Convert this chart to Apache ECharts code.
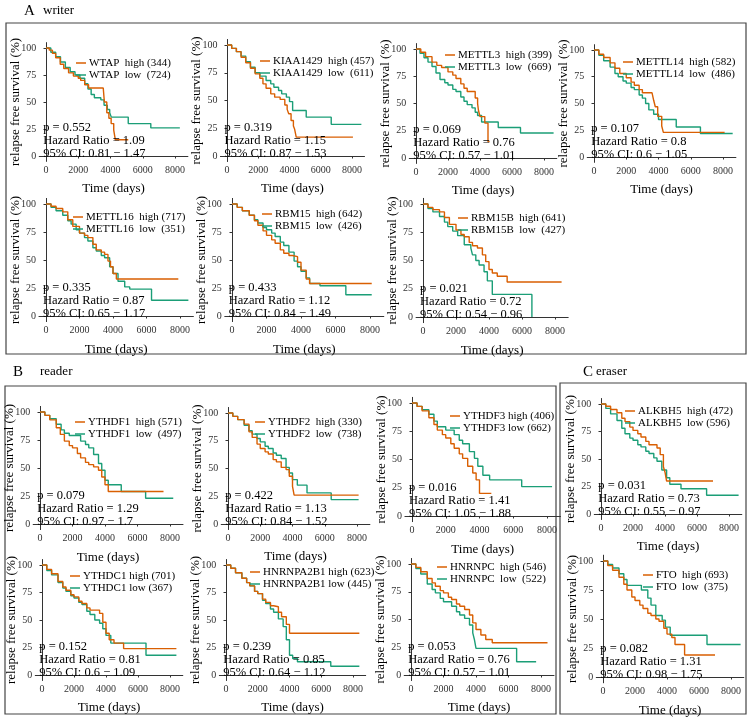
<!DOCTYPE html>
<html><head><meta charset="utf-8">
<script src="https://cdn.jsdelivr.net/npm/echarts@6/dist/echarts.min.js"></script>
<style>html,body{margin:0;padding:0;background:#fff}#c{width:749px;height:721px}</style>
</head><body><div id="c"></div>
<script>
// ---------------- DATA ----------------
const genes = ['WTAP','KIAA1429','METTL3','METTL14','METTL16','RBM15','RBM15B',
  'YTHDF1','YTHDF2','YTHDF3','ALKBH5','YTHDC1','HNRNPA2B1','HNRNPC','FTO'];
const legendHigh = ['WTAP  high (344)','KIAA1429  high (457)','METTL3  high (399)','METTL14  high (582)',
  'METTL16  high (717)','RBM15  high (642)','RBM15B  high (641)','YTHDF1  high (571)','YTHDF2  high (330)',
  'YTHDF3 high (406)','ALKBH5  high (472)','YTHDC1 high (701)','HNRNPA2B1 high (623)','HNRNPC  high (546)','FTO  high (693)'];
const legendLow = ['WTAP  low  (724)','KIAA1429  low  (611)','METTL3  low  (669)','METTL14  low  (486)',
  'METTL16  low  (351)','RBM15  low  (426)','RBM15B  low  (427)','YTHDF1  low  (497)','YTHDF2  low  (738)',
  'YTHDF3 low (662)','ALKBH5  low (596)','YTHDC1 low (367)','HNRNPA2B1 low (445)','HNRNPC  low  (522)','FTO  low  (375)'];
const pValues = ['0.552','0.319','0.069','0.107','0.335','0.433','0.021','0.079','0.422','0.016','0.031','0.152','0.239','0.053','0.082'];
const hazardRatios = ['1.09','1.15','0.76','0.8','0.87','1.12','0.72','1.29','1.13','1.41','0.73','0.81','0.85','0.76','1.31'];
const ciLow = ['0.81','0.87','0.57','0.6','0.65','0.84','0.54','0.97','0.84','1.05','0.55','0.6','0.64','0.57','0.98'];
const ciHigh = ['1.47','1.53','1.01','1.05','1.17','1.49','0.96','1.7','1.52','1.88','0.97','1.09','1.12','1.01','1.75'];
const xTicks = [0,2000,4000,6000,8000];
const yTicks = [0,25,50,75,100];

// KM curves: [time (days), survival %]
const wtapHigh = [[0,100],[200,98],[400,95],[600,91],[880,85],[1100,81],[1400,77],[1700,74],[2000,72],[2150,70],[2400,66],[2640,63],[3550,62],[3620,50],[3770,40],[3900,35],[4040,30],[4200,24],[4300,15],[5100,15]];
const wtapLow = [[0,100],[300,96],[600,92],[900,87],[1200,82],[1500,78],[1800,75],[2100,72],[2400,67],[2600,62],[2800,57],[3000,54],[3400,52],[3600,47],[3800,43],[3950,40],[4050,36],[5100,30],[6500,26],[8300,26]];
const kiaaHigh = [[0,100],[300,97],[600,94],[900,89],[1200,84],[1500,79],[1800,74],[2100,70],[2300,65],[2500,61],[2800,56],[3050,53],[3400,51],[3700,46],[3850,42],[3950,38],[4100,32],[4250,27],[4330,24],[4430,17],[8060,17]];
const kiaaLow = [[0,100],[300,97],[600,94],[900,90],[1200,85],[1500,80],[1800,75],[2100,72],[2500,68],[2800,65],[3000,62],[3300,59],[3500,56],[3800,53],[4000,49],[4200,41],[5070,35],[6670,28.5],[8600,28.5]];
const mettl3High = [[0,100],[300,97],[600,93],[1000,88],[1300,85],[1600,83],[2000,79],[2300,76],[2500,73],[2800,68],[3000,64],[3200,61],[3700,55],[3850,50],[3900,44],[4000,38],[4300,32],[4500,15],[4600,15]];
const mettl3Low = [[0,100],[250,96],[500,92],[750,88],[1000,84],[1250,78],[1500,72],[1800,69],[2000,67],[2300,63],[2500,61],[2800,56],[3000,52],[3200,49],[3500,46],[3700,42],[3850,39],[4100,33],[5140,28],[6530,23],[8600,23]];
const mettl14High = [[0,100],[300,96],[600,93],[1000,88],[1300,83],[1600,78],[2000,74],[2300,70],[2500,67],[2800,63],[3000,60],[3600,59],[3700,53],[3800,47],[3950,38],[4200,29],[4300,23],[8100,23]];
const mettl14Low = [[0,100],[300,95],[600,90],[1000,84],[1300,78],[1500,75],[1800,71],[2000,69],[2300,65],[2500,63],[2800,58],[3000,55],[3200,50],[3400,44],[3700,40],[4000,35],[5100,28],[6600,22],[8600,22]];
const mettl16High = [[0,100],[300,98],[600,96],[1000,93],[1300,86],[1600,80],[2000,74],[2300,72],[2500,70],[2800,64],[3000,59],[3300,57],[3500,55],[3700,49],[3850,44],[4000,38],[4200,33],[7900,33]];
const mettl16Low = [[0,100],[300,97],[600,94],[1000,90],[1300,85],[1500,82],[1800,77],[2000,74],[2300,70],[2500,67],[2800,61],[3000,58],[3300,54],[3500,52],[3800,44],[4000,38],[4300,31],[4700,26],[5000,24],[6300,14],[8500,14]];
const rbm15High = [[0,100],[300,97],[600,94],[1000,90],[1300,85],[1500,81],[1800,76],[2000,72],[2300,68],[2500,65],[2800,59],[3000,56],[3300,54],[3500,53],[3800,48],[4000,41],[4300,33],[4500,29],[8100,29]];
const rbm15Low = [[0,100],[300,97],[600,94],[1000,90],[1300,86],[1500,83],[1800,79],[2000,77],[2300,74],[2500,71],[2800,66],[3000,63],[3300,57],[3600,49],[3800,44],[4000,40],[4300,34],[4500,29],[5100,27],[6600,19],[8100,19]];
const rbm15bHigh = [[0,100],[300,97],[600,95],[1000,93],[1300,88],[1600,82],[2000,77],[2300,73],[2500,71],[2800,66],[3000,63],[3300,61],[3600,55],[3800,49],[4000,42],[4200,39],[4500,36],[5100,31],[8400,31]];
const rbm15bLow = [[0,100],[300,96],[600,93],[1000,89],[1300,84],[1500,80],[1800,76],[2100,72],[2500,64],[2900,61],[3000,55],[3200,50],[3400,46],[3700,40],[3900,32],[4200,20],[6600,0]];
const ythdf1High = [[0,100],[300,97],[600,93],[1000,86],[1250,80],[1500,74],[1800,70],[2000,68],[2300,63],[2500,59],[2800,55],[3000,53],[3300,51],[3600,48],[3800,42],[4000,35],[4200,29],[7600,29]];
const ythdf1Low = [[0,100],[300,97],[600,94],[1000,89],[1300,84],[1500,81],[1800,79],[2500,74],[2800,71],[3000,68],[3300,62],[3600,54],[3800,48],[4000,39],[4200,35],[5000,29],[6500,23],[8200,23]];
const ythdf2High = [[0,100],[300,97],[600,94],[1000,90],[1300,83],[1500,78],[1800,72],[2000,68],[2300,65],[2500,63],[2800,58],[3000,56],[3300,51],[3600,49],[3800,43],[4000,34],[4100,26],[8100,26]];
const ythdf2Low = [[0,100],[300,97],[600,94],[1000,89],[1300,84],[1500,81],[1800,77],[2000,74],[2300,70],[2500,68],[2800,64],[3000,62],[3300,59],[3600,51],[3800,46],[4000,40],[4300,35],[4900,28],[6400,22],[8100,22]];
const ythdf3High = [[0,100],[300,97],[600,93],[1000,87],[1300,81],[1500,76],[1800,72],[2000,69],[2300,64],[2500,60],[2800,55],[3000,51],[3300,44],[3600,38],[3800,32],[4000,20],[4700,20]];
const ythdf3Low = [[0,100],[300,97],[600,94],[1000,90],[1300,84],[1500,79],[2000,76],[2500,72],[2800,67],[3000,64],[3400,57],[3700,51],[3900,44],[4200,36],[4600,32],[6500,26],[8300,26]];
const alkbh5High = [[0,100],[300,98],[600,95],[1000,92],[1300,87],[1500,84],[1800,79],[2000,76],[2300,73],[2500,70],[2800,66],[3000,63],[3500,60],[3700,54],[3900,43],[4000,38],[4100,30],[7000,30]];
const alkbh5Low = [[0,100],[300,96],[600,91],[1000,85],[1300,78],[1500,73],[1800,69],[2000,67],[2300,63],[2500,61],[2800,57],[3000,55],[3300,51],[3500,48],[3800,40],[4100,33],[4300,27],[5000,23],[6600,17],[8600,17]];
const ythdc1High = [[0,100],[300,96],[600,92],[1000,85],[1300,80],[1500,77],[1800,73],[2000,71],[2300,67],[2500,65],[2800,61],[3000,59],[3600,56],[3800,48],[4000,38],[4200,32],[4500,29],[5100,24],[8400,24]];
const ythdc1Low = [[0,100],[300,95],[600,91],[1000,84],[1300,79],[1500,76],[1800,72],[2000,70],[2300,66],[2500,64],[2800,58],[3000,55],[3300,50],[3600,47],[3800,42],[4000,36],[4300,29],[6500,18],[8400,18]];
const hnrnpa2b1High = [[0,100],[300,97],[600,93],[1000,88],[1300,84],[1500,81],[1800,76],[2000,74],[2300,69],[2500,66],[2800,63],[3000,62],[3300,57],[3500,53],[3800,46],[4000,38],[8400,38]];
const hnrnpa2b1Low = [[0,100],[300,97],[600,93],[1000,88],[1300,84],[1500,81],[1800,76],[2000,74],[2300,68],[2500,65],[2800,60],[3000,57],[3300,51],[3600,44],[3800,32],[4000,18],[4200,15],[4500,12],[6600,8],[8400,8]];
const hnrnpcHigh = [[0,100],[300,97],[600,93],[1000,87],[1300,83],[1500,80],[1800,76],[2000,74],[2300,70],[2500,68],[2800,64],[3000,62],[3300,59],[3600,54],[3800,47],[4000,41],[4300,36],[4600,32],[5000,29],[8400,29]];
const hnrnpcLow = [[0,100],[300,96],[600,91],[1000,82],[1300,77],[1500,74],[1800,69],[2000,66],[2500,62],[2800,57],[3000,54],[3300,51],[3600,45],[3800,38],[3900,32],[4000,24],[6500,12],[7700,12]];
const ftoHigh = [[0,100],[300,96],[600,92],[1000,86],[1300,80],[1500,75],[1800,69],[2000,66],[2300,62],[2500,59],[2800,55],[3000,53],[3300,50],[3500,48],[3800,42],[4000,37],[4300,34],[4500,28],[5100,19],[7000,19]];
const ftoLow = [[0,100],[300,97],[600,94],[1000,89],[1300,84],[1500,79],[2400,75],[2800,68],[3000,62],[3300,53],[3700,49],[3900,43],[4200,36],[6500,28],[8600,28]];

const highCurves = [wtapHigh,kiaaHigh,mettl3High,mettl14High,mettl16High,rbm15High,rbm15bHigh,ythdf1High,ythdf2High,ythdf3High,alkbh5High,ythdc1High,hnrnpa2b1High,hnrnpcHigh,ftoHigh];
const lowCurves = [wtapLow,kiaaLow,mettl3Low,mettl14Low,mettl16Low,rbm15Low,rbm15bLow,ythdf1Low,ythdf2Low,ythdf3Low,alkbh5Low,ythdc1Low,hnrnpa2b1Low,hnrnpcLow,ftoLow];

// ---------------- LAYOUT (pixel positions) ----------------
const layout = [
  {x0:46, x8:175, y100:48, y0:156, lx:30, ly:15},
  {x0:227,x8:352, y100:45, y0:156, lx:33, ly:16},
  {x0:416,x8:544, y100:49, y0:158, lx:29, ly:6},
  {x0:594,x8:723, y100:50, y0:157, lx:29, ly:12},
  {x0:46, x8:180, y100:204,y0:316, lx:27, ly:13},
  {x0:232,x8:370, y100:204,y0:316, lx:30, ly:10},
  {x0:423,x8:555, y100:204,y0:317, lx:35, ly:14},
  {x0:40, x8:170, y100:412,y0:524, lx:35, ly:10},
  {x0:228,x8:357, y100:413,y0:524, lx:27, ly:9},
  {x0:412,x8:547, y100:403,y0:516, lx:38, ly:13},
  {x0:601,x8:729, y100:404,y0:514, lx:24, ly:7},
  {x0:42, x8:170, y100:565,y0:675, lx:28, ly:11},
  {x0:226,x8:353, y100:565,y0:675, lx:24, ly:7},
  {x0:411,x8:541, y100:564,y0:675, lx:26, ly:3},
  {x0:603,x8:731, y100:561,y0:677, lx:40, ly:14}
];
const XMIN = -420, XMAX = 8800, YMIN = -5, YMAX = 105;
const FONT = '"Liberation Serif", "Times New Roman", serif';
const ORANGE = '#D95F02', GREEN = '#1B9E77';

const grids = [], xAxes = [], yAxes = [], series = [], legends = [], graphics = [];
layout.forEach((L, i) => {
  const ppd = (L.x8 - L.x0) / 8000, ppu = (L.y0 - L.y100) / 100;
  const left = L.x0 + XMIN * ppd, top = L.y100 - (YMAX - 100) * ppu;
  grids.push({left: left, top: top, width: (XMAX - XMIN) * ppd, height: (YMAX - YMIN) * ppu, containLabel: false});
  xAxes.push({type:'value', gridIndex:i, min:XMIN, max:XMAX,
    name:'Time (days)', nameLocation:'middle', nameGap:21, nameMoveOverlap:false,
    nameTextStyle:{fontFamily:FONT, fontSize:13, color:'#000'},
    axisLine:{show:true, lineStyle:{color:'#333', width:1}},
    axisTick:{show:true, length:2.5, customValues:xTicks, lineStyle:{color:'#333'}},
    axisLabel:{customValues:xTicks, margin:4, fontFamily:FONT, fontSize:10, color:'#333', formatter: v => String(v)},
    splitLine:{show:false}});
  yAxes.push({type:'value', gridIndex:i, min:YMIN, max:YMAX,
    name:'relapse free survival (%)', nameLocation:'middle', nameGap:17, nameMoveOverlap:false,
    nameTextStyle:{fontFamily:FONT, fontSize:13, color:'#000'},
    axisLine:{show:true, lineStyle:{color:'#333', width:1}},
    axisTick:{show:true, length:2.5, customValues:yTicks, lineStyle:{color:'#333'}},
    axisLabel:{customValues:yTicks, margin:3, fontFamily:FONT, fontSize:10, color:'#333', formatter: v => String(v)},
    splitLine:{show:false}});
  series.push({name:legendLow[i], type:'line', step:'end', xAxisIndex:i, yAxisIndex:i,
    data:lowCurves[i], showSymbol:false, symbol:'none', color:GREEN,
    lineStyle:{color:GREEN, width:1.4}, animation:false});
  series.push({name:legendHigh[i], type:'line', step:'end', xAxisIndex:i, yAxisIndex:i,
    data:highCurves[i], showSymbol:false, symbol:'none', color:ORANGE,
    lineStyle:{color:ORANGE, width:1.4}, animation:false});
  legends.push({data:[legendHigh[i], legendLow[i]], orient:'vertical', left:L.x0 + L.lx, top:L.y100 + L.ly - 6,
    padding:0, itemGap:0, itemWidth:10, itemHeight:1.5, icon:'rect', selectedMode:false,
    textStyle:{fontFamily:FONT, fontSize:11, color:'#000', lineHeight:12, padding:[0,0,0,-2]}});
  const lines = ['p = ' + pValues[i], 'Hazard Ratio = ' + hazardRatios[i], '95% CI: ' + ciLow[i] + ' \u2212 ' + ciHigh[i]];
  const offs = [-28, -15, -2];
  lines.forEach((t, k) => {
    graphics.push({type:'text', x:left + 4, y:L.y0 + offs[k], z:10, silent:true,
      style:{text:t, font:'12.5px ' + FONT, fill:'#000', textVerticalAlign:'middle', verticalAlign:'middle', textAlign:'left', align:'left'}});
  });
});

const frames = [
  {x:6, y:23, w:740, h:331},
  {x:5, y:386, w:551, h:328},
  {x:560, y:383, w:186, h:331}
];
frames.forEach(f => graphics.push({type:'rect', shape:{x:f.x, y:f.y, width:f.w, height:f.h}, silent:true,
  style:{fill:'none', stroke:'#444', lineWidth:1.2}}));
const panelLabels = [
  {t:'A', x:24, y:11, s:15}, {t:'writer', x:43, y:11, s:13},
  {t:'B', x:13, y:372, s:15}, {t:'reader', x:40, y:372, s:13},
  {t:'C', x:583, y:372, s:15}, {t:'eraser', x:596, y:372, s:13}
];
panelLabels.forEach(p => graphics.push({type:'text', x:p.x, y:p.y, silent:true,
  style:{text:p.t, font:p.s + 'px ' + FONT, fill:'#000', textVerticalAlign:'middle', verticalAlign:'middle'}}));

const chart = echarts.init(document.getElementById('c'), null, {renderer:'canvas'});
chart.setOption({
  animation:false,
  backgroundColor:'#fff',
  grid:grids, xAxis:xAxes, yAxis:yAxes, series:series, legend:legends, graphic:graphics
});
</script></body></html>
